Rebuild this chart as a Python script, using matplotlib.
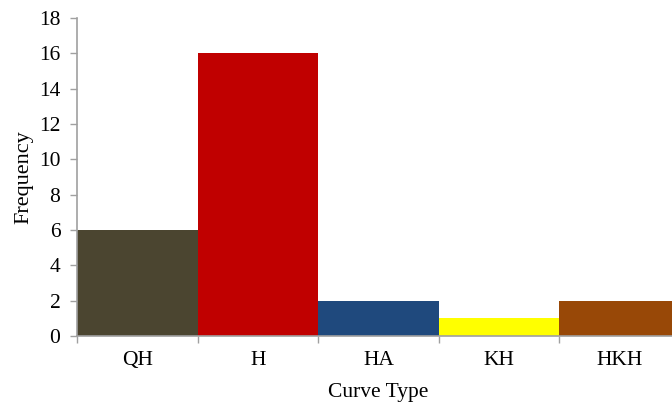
import matplotlib
matplotlib.use("Agg")
import matplotlib.pyplot as plt
import numpy as np

categories = ["QH", "H", "HA", "KH", "HKH"]
frequency = [6, 16, 2, 1, 2]
colors = ["#4b4530", "#c00000", "#1f497d", "#ffff00", "#984807"]

plt.rcParams["font.family"] = ["Liberation Serif", "DejaVu Serif"]

fig = plt.figure(figsize=(6.72, 4.09), dpi=100)
W, H = 672, 409
left, right, top, bottom = 77, 680, 18, 336
ax = fig.add_axes([left / W, 1 - bottom / H, (right - left) / W, (bottom - top) / H])

x = np.arange(len(categories))
ax.bar(x, frequency, width=1.0, color=colors, edgecolor="none")

ax.set_xlim(-0.5, len(categories) - 0.5)
ax.set_ylim(0, 18)
ax.set_yticks(np.arange(0, 19, 2))
ax.set_xticks(x)
ax.set_xticklabels(categories)
ax.set_xticks(np.arange(-0.5, len(categories), 1.0), minor=True)
ax.tick_params(axis="x", which="major", length=0, pad=11, labelsize=15.5)
ax.tick_params(axis="x", which="minor", length=5, width=1, color="#a0a0a0", direction="out")
ax.tick_params(axis="y", length=5, width=1, color="#a0a0a0", direction="out", labelsize=15.5, pad=7)

for s in ["top", "right"]:
    ax.spines[s].set_visible(False)
for s in ["left", "bottom"]:
    ax.spines[s].set_color("#a0a0a0")
    ax.spines[s].set_linewidth(1.2)

ax.set_xlabel("Curve Type", fontsize=15.5, labelpad=9)
ax.set_ylabel("Frequency", fontsize=16, labelpad=4)

fig.savefig("out.png", dpi=100)
